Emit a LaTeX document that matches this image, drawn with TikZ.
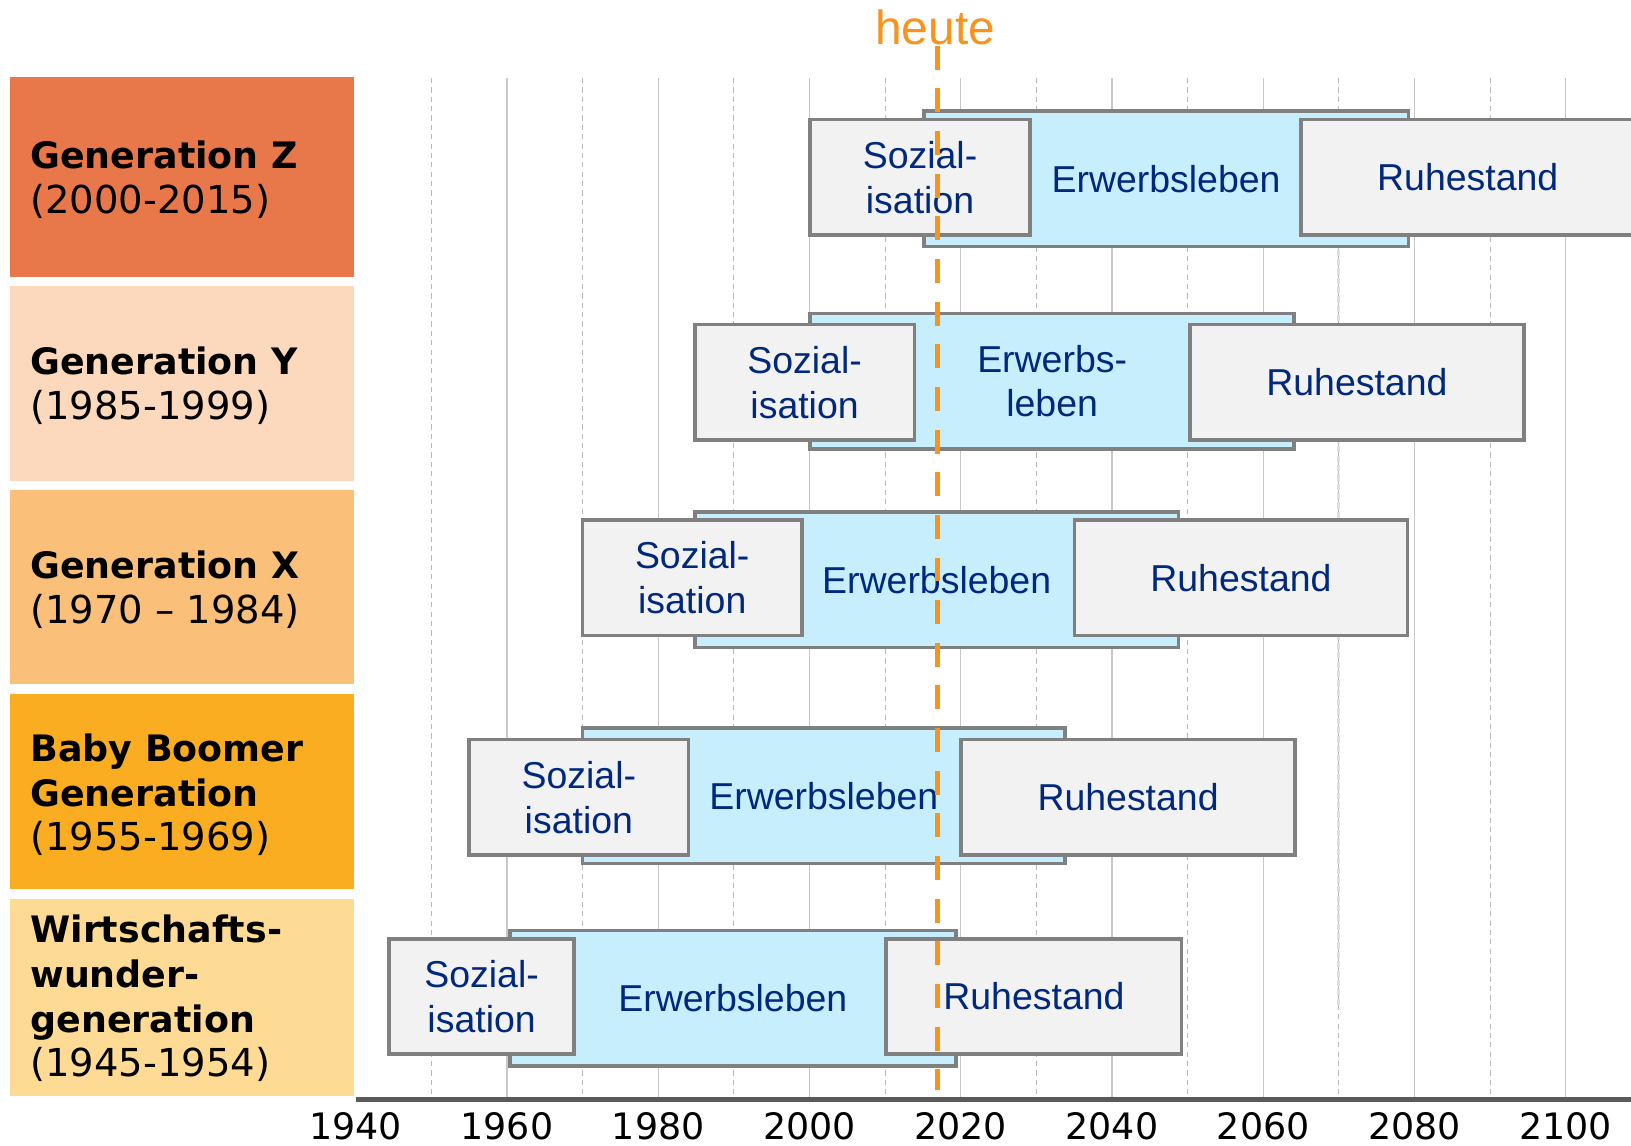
\documentclass[tikz,border=0pt]{standalone}
\usepackage{fontspec}
\setmainfont{DejaVu Sans}
\newfontfamily\arialf{Liberation Sans}
\definecolor{genZ}{RGB}{232,120,74}
\definecolor{genY}{RGB}{252,217,189}
\definecolor{genX}{RGB}{250,192,122}
\definecolor{genB}{RGB}{251,173,34}
\definecolor{genW}{RGB}{254,219,148}
\definecolor{boxblue}{RGB}{198,238,252}
\definecolor{boxgray}{RGB}{242,242,242}
\definecolor{boxline}{RGB}{128,128,128}
\definecolor{navy}{RGB}{0,40,125}
\definecolor{heuteor}{RGB}{247,148,30}
\definecolor{gridsolid}{RGB}{200,200,200}
\definecolor{griddash}{RGB}{185,185,185}
\definecolor{axisgray}{RGB}{90,90,90}
\newcommand{\yrs}[1]{{\fontsize{37}{43}\selectfont #1}}
\tikzset{
  genlabel/.style={anchor=west, align=left, inner sep=0pt, text=black,
    font=\fontsize{35}{43}\selectfont},
  genbg/.style={fill=#1, draw=none, inner sep=0pt, outer sep=0pt},
  phase/.style={draw=boxline, line width=3.5pt, inner sep=0pt, outer sep=0pt,
    align=center, text=navy, font=\arialf\fontsize{36}{43}\selectfont},
  erwerb/.style={phase, fill=boxblue, minimum height=130pt},
  sozial/.style={phase, fill=boxgray, minimum height=111pt},
  ruhe/.style={phase, fill=boxgray, minimum height=111pt},
  yearlabel/.style={font=\fontsize{35}{40}\selectfont, inner sep=0pt, text=black},
}
\begin{document}
\begin{tikzpicture}[x=1pt,y=-1pt]
\useasboundingbox (0,0) rectangle (1568,1101);
\begin{scope}
\clip (0,0) rectangle (1568,1101);
% generation label backgrounds
\node[genbg=genZ, minimum width=330pt, minimum height=192pt] (bgZ) at (175,170) {};
\node[genbg=genY, minimum width=330pt, minimum height=187pt] (bgY) at (175,368.5) {};
\node[genbg=genX, minimum width=330pt, minimum height=187pt] (bgX) at (175,564.5) {};
\node[genbg=genB, minimum width=330pt, minimum height=188pt] (bgB) at (175,761) {};
\node[genbg=genW, minimum width=330pt, minimum height=190pt] (bgW) at (175,959) {};
\node[genlabel] (lZ) at (29,173) {\textbf{Generation Z}\\\yrs{(2000-2015)}};
\node[genlabel] (lY) at (29,371) {\textbf{Generation Y}\\\yrs{(1985-1999)}};
\node[genlabel] (lX) at (29,567) {\textbf{Generation X}\\\yrs{(1970 – 1984)}};
\node[genlabel] (lB) at (29,764) {\textbf{Baby Boomer}\\\textbf{Generation}\\\yrs{(1955-1969)}};
\node[genlabel] (lW) at (29,960) {\textbf{Wirtschafts-}\\\textbf{wunder-}\\\textbf{generation}\\\yrs{(1945-1954)}};
% grid
\foreach \yr in {1960,1980,...,2100} {
  \draw[gridsolid, line width=1.2pt] ({342+(\yr-1940)*7.27},75) -- ({342+(\yr-1940)*7.27},1055);
}
\foreach \yr in {1950,1970,...,2090} {
  \draw[griddash, line width=1pt, dash pattern=on 5pt off 4pt] ({342+(\yr-1940)*7.27},75) -- ({342+(\yr-1940)*7.27},1055);
}
\draw[gray!25, line width=3pt, dash pattern=on 6pt off 3pt] ({342+130*7.27},240) -- ({342+130*7.27},970);
% axis
\coordinate (axL) at (342,1057);
\coordinate (axR) at (1568,1057);
\draw[axisgray, line width=4.5pt] (axL) -- (axR);
\foreach \yr in {1940,1960,...,2100} {
  \node[yearlabel] (y\yr) at ({342+(\yr-1940)*7.27},1083) {\yr};
}
% Generation Z
\node[erwerb, minimum width=466pt] (zE) at (1121,172) {Erwerbsleben};
\node[sozial, minimum width=211pt] (zS) at (884.5,170.5) {Sozial-\\isation};
\node[ruhe, minimum width=320pt] (zR) at (1411,170.5) {Ruhestand};
% Generation Y
\node[erwerb, minimum width=465pt] (yE) at (1011.5,366.5) {Erwerbs-\\leben};
\node[sozial, minimum width=211pt] (yS) at (773.5,367.5) {Sozial-\\isation};
\node[ruhe, minimum width=321pt] (yR) at (1304.5,367.5) {Ruhestand};
% Generation X
\node[erwerb, minimum width=465pt] (xE) at (900.5,557.5) {Erwerbsleben};
\node[sozial, minimum width=211pt] (xS) at (665.5,555.5) {Sozial-\\isation};
\node[ruhe, minimum width=320pt] (xR) at (1193,555.5) {Ruhestand};
% Baby Boomer
\node[erwerb, minimum width=464pt] (bE) at (792,765) {Erwerbsleben};
\node[sozial, minimum width=211pt] (bS) at (556.5,766.5) {Sozial-\\isation};
\node[ruhe, minimum width=321pt] (bR) at (1084.5,766.5) {Ruhestand};
% Wirtschaftswunder
\node[erwerb, minimum width=429pt] (wE) at (704.5,959.5) {Erwerbsleben};
\node[sozial, minimum width=178pt] (wS) at (463,958) {Sozial-\\isation};
\node[ruhe, minimum width=284pt] (wR) at (994,958) {Ruhestand};
% heute
\node[text=heuteor, font=\arialf\fontsize{46}{50}\selectfont, inner sep=0pt] (heute) at (899,26) {heute};
\coordinate (hTop) at (901,44);
\coordinate (hBot) at (901,1048);
\draw[heuteor, line width=5pt, dash pattern=on 23pt off 18pt] (hTop) -- (hBot);
\end{scope}
\end{tikzpicture}
\end{document}
